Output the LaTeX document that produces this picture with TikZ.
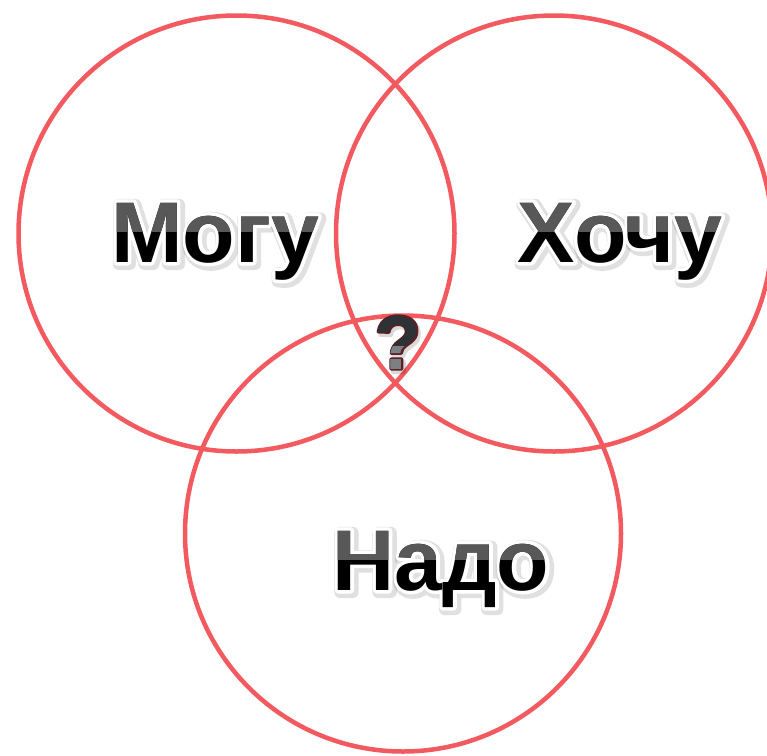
\documentclass[tikz,border=0pt]{standalone}
\usepackage{fontspec}
\setmainfont{Liberation Sans}
\usetikzlibrary{positioning}
\definecolor{vennred}{RGB}{242,90,96}
\definecolor{wordgray}{RGB}{88,88,88}
\definecolor{qdark}{RGB}{45,50,52}
\definecolor{qgray}{RGB}{125,128,130}
\definecolor{qrim}{RGB}{95,30,35}
\tikzset{
  ring/.style={circle, draw=vennred, line width=4.5pt,
    minimum size=436pt, inner sep=0pt},
  word/.style={anchor=base, inner sep=0pt,
    font=\fontsize{86}{86}\selectfont\bfseries},
  qword/.style={anchor=base, inner sep=0pt,
    font=\fontsize{76}{76}\selectfont\bfseries}
}
% outlined text: stroke width, stroke colour (rgb), text
\newcommand{\strokedtext}[3]{%
  \special{pdf:literal 1 Tr 1 j 1 J #1 w #2 RG}#3\special{pdf:literal 0 Tr}}
% glossy word: name, x, y, text
\newcommand{\glossword}[4]{%
  \node[word, text=black, opacity=0.12, xshift=2, yshift=-2] at (#2,#3)
    {\strokedtext{12}{0 0 0}{#4}};
  \node[word, text=white] at (#2,#3) {\strokedtext{7}{1 1 1}{#4}};
  \node[word, text=black] (#1) at (#2,#3) {#4};
  \begin{scope}
    \clip (#2-160,#3-110) rectangle (#2+160,#3-31);
    \node[word, text=wordgray] at (#2,#3) {#4};
  \end{scope}
}

\begin{document}
\begin{tikzpicture}[x=1pt, y=-1pt]
  \useasboundingbox (0,0) rectangle (767,755);
  \fill[white] (0,0) rectangle (767,755);

  % Circles
  \node[ring] (ringmogu) at (236.5,233.5) {};
  \node[ring] (ringhochu) at (554,233.5) {};
  \node[ring] (ringnado) at (403,533.5) {};

  % Words
  \glossword{mogu}{215}{262}{Могу}
  \glossword{hochu}{620}{262}{Хочу}
  \glossword{nado}{441}{590}{Надо}

  % Question mark
  \node[qword, text=black, opacity=0.15, xshift=2, yshift=-3] at (398,369)
    {\strokedtext{4}{0 0 0}{?}};
  \node[qword, text=qrim] at (398,369) {\strokedtext{3.2}{0.37 0.12 0.14}{?}};
  \node[qword, text=qdark] (vopros) at (398,369) {?};
  \begin{scope}
    \clip (360,346) rectangle (440,380);
    \node[qword, text=qgray] at (398,369) {?};
  \end{scope}
\end{tikzpicture}
\end{document}
